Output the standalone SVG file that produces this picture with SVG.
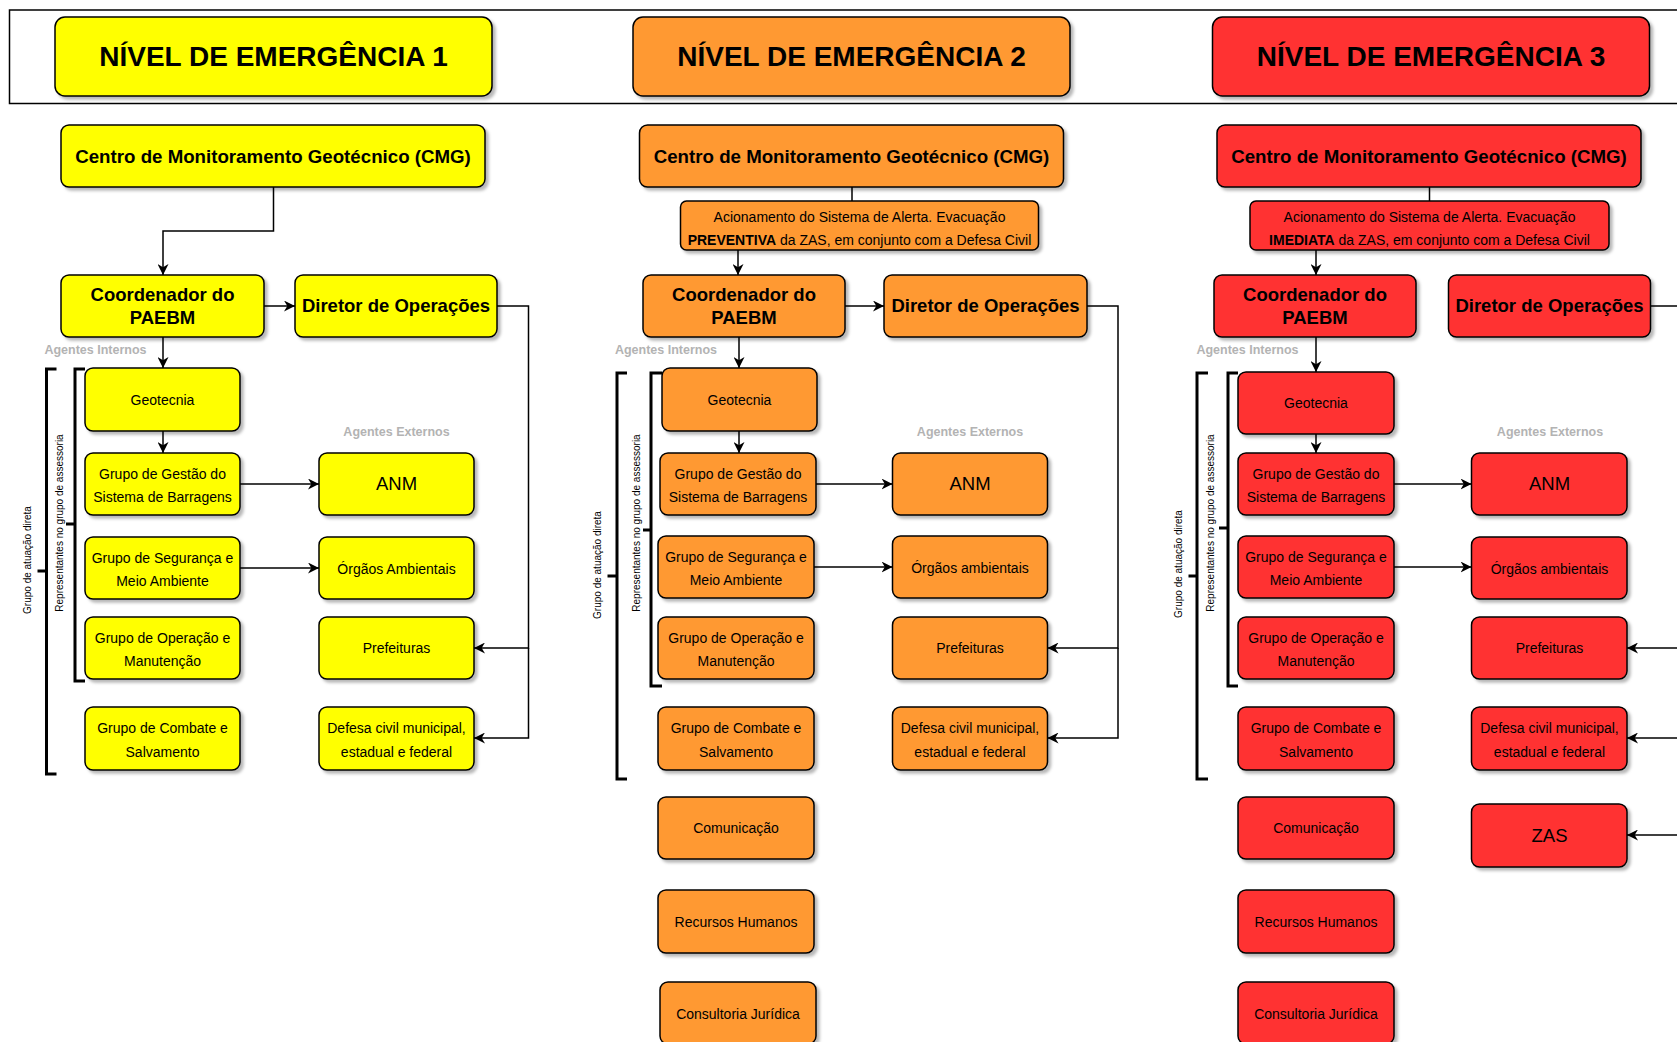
<svg xmlns="http://www.w3.org/2000/svg" width="1677" height="1042" viewBox="0 0 1677 1042">
<style>
text{font-family:"Liberation Sans",Arial,Helvetica,sans-serif;fill:#000;}
.b{stroke:#000;stroke-width:1.5;filter:url(#sh);}
.y{fill:#FFFF00;}
.o{fill:#FF9933;}
.r{fill:#FF3333;}
.h{font-size:28px;font-weight:bold;text-anchor:middle;}
.t18{font-size:18.7px;font-weight:bold;text-anchor:middle;}
.t185{font-size:18.5px;font-weight:bold;text-anchor:middle;}
.t14{font-size:14px;text-anchor:middle;}
.big{font-size:18.5px;text-anchor:middle;}
.lab{font-size:12.5px;font-weight:bold;fill:#B3B3B3;text-anchor:middle;}
.rot{font-size:10px;text-anchor:middle;}
.c{fill:none;stroke:#000;stroke-width:1.5;}
.ca{fill:none;stroke:#000;stroke-width:1.5;marker-end:url(#ar);}
.br{fill:none;stroke:#000;stroke-width:3;}
</style>
<defs>
<filter id="sh" x="-10%" y="-10%" width="130%" height="145%">
<feDropShadow dx="3" dy="3" stdDeviation="1.5" flood-color="#000" flood-opacity="0.28"/>
</filter>
<marker id="ar" viewBox="0 0 10 10" refX="10" refY="5" markerWidth="11" markerHeight="11" markerUnits="userSpaceOnUse" orient="auto">
<path d="M0,0 L10,5 L0,10 L3,5 z" fill="#000"/>
</marker>
</defs>
<rect x="0" y="0" width="1677" height="1042" fill="#fff"/>
<rect x="9.5" y="10" width="1700" height="93.5" fill="none" stroke="#000" stroke-width="1.5"/>

<!-- Column 1 -->
<g id="n1-header"><rect class="b y" x="55" y="17" width="437" height="79" rx="10"/><text class="h" x="273.5" y="66">NÍVEL DE EMERGÊNCIA 1</text></g>
<g id="n1-cmg"><rect class="b y" x="61" y="125" width="424" height="62" rx="8"/><text class="t18" x="273" y="162.5">Centro de Monitoramento Geotécnico (CMG)</text></g>
<g id="n1-coord"><rect class="b y" x="61" y="275" width="203" height="62" rx="8"/><text class="t185" x="162.5" y="300.5">Coordenador do</text><text class="t185" x="162.5" y="323.5">PAEBM</text></g>
<g id="n1-dir"><rect class="b y" x="295" y="275" width="202" height="62" rx="8"/><text class="t185" x="396" y="312">Diretor de Operações</text></g>
<g id="n1-geo"><rect class="b y" x="85" y="368" width="155" height="63" rx="8"/><text class="t14" x="162.5" y="404.5">Geotecnia</text></g>
<g id="n1-gest"><rect class="b y" x="85" y="453" width="155" height="62" rx="8"/><text class="t14" x="162.5" y="479">Grupo de Gestão do</text><text class="t14" x="162.5" y="502">Sistema de Barragens</text></g>
<g id="n1-seg"><rect class="b y" x="85" y="537" width="155" height="62" rx="8"/><text class="t14" x="162.5" y="563">Grupo de Segurança e</text><text class="t14" x="162.5" y="586">Meio Ambiente</text></g>
<g id="n1-op"><rect class="b y" x="85" y="617" width="155" height="62" rx="8"/><text class="t14" x="162.5" y="642.5">Grupo de Operação e</text><text class="t14" x="162.5" y="666">Manutenção</text></g>
<g id="n1-comb"><rect class="b y" x="85" y="707" width="155" height="63" rx="8"/><text class="t14" x="162.5" y="733">Grupo de Combate e</text><text class="t14" x="162.5" y="756.5">Salvamento</text></g>
<g id="n1-anm"><rect class="b y" x="319" y="453" width="155" height="62" rx="8"/><text class="big" x="396.5" y="490">ANM</text></g>
<g id="n1-org"><rect class="b y" x="319" y="537" width="155" height="62" rx="8"/><text class="t14" x="396.5" y="574">Órgãos Ambientais</text></g>
<g id="n1-pref"><rect class="b y" x="319" y="617" width="155" height="62" rx="8"/><text class="t14" x="396.5" y="653">Prefeituras</text></g>
<g id="n1-def"><rect class="b y" x="319" y="707" width="155" height="63" rx="8"/><text class="t14" x="396.5" y="733">Defesa civil municipal,</text><text class="t14" x="396.5" y="756.5">estadual e federal</text></g>
<g id="n1-labels">
<text class="lab" x="95.5" y="353.5">Agentes Internos</text>
<text class="lab" x="396.5" y="436">Agentes Externos</text>
<path class="br" d="M56.5,369 H46.5 V774 H56.5 M37.5,571 H46.5"/>
<path class="br" d="M85,369 H75 V681 H85 M66,524 H75"/>
<text class="rot" transform="translate(30.5,560) rotate(-90)">Grupo de atuação direta</text>
<text class="rot" transform="translate(62.5,523) rotate(-90)">Representantes no grupo de assessoria</text>
</g>

<!-- Column 2 -->
<g id="n2-header"><rect class="b o" x="633" y="17" width="437" height="79" rx="10"/><text class="h" x="851.5" y="66">NÍVEL DE EMERGÊNCIA 2</text></g>
<g id="n2-cmg"><rect class="b o" x="639.5" y="125" width="424" height="62" rx="8"/><text class="t18" x="851.5" y="162.5">Centro de Monitoramento Geotécnico (CMG)</text></g>
<g id="n2-alert"><rect class="b o" x="680.5" y="201" width="358" height="49" rx="6"/><text class="t14" x="859.5" y="221.5">Acionamento do Sistema de Alerta. Evacuação</text><text class="t14" x="859.5" y="244.5"><tspan font-weight="bold">PREVENTIVA</tspan> da ZAS, em conjunto com a Defesa Civil</text></g>
<g id="n2-coord"><rect class="b o" x="643" y="275" width="202" height="62" rx="8"/><text class="t185" x="744" y="300.5">Coordenador do</text><text class="t185" x="744" y="323.5">PAEBM</text></g>
<g id="n2-dir"><rect class="b o" x="884" y="275" width="203" height="62" rx="8"/><text class="t185" x="985.5" y="312">Diretor de Operações</text></g>
<g id="n2-geo"><rect class="b o" x="662" y="368" width="155" height="63" rx="8"/><text class="t14" x="739.5" y="404.5">Geotecnia</text></g>
<g id="n2-gest"><rect class="b o" x="660" y="453" width="156" height="62" rx="8"/><text class="t14" x="738" y="479">Grupo de Gestão do</text><text class="t14" x="738" y="502">Sistema de Barragens</text></g>
<g id="n2-seg"><rect class="b o" x="658" y="536" width="156" height="62" rx="8"/><text class="t14" x="736" y="561.5">Grupo de Segurança e</text><text class="t14" x="736" y="585">Meio Ambiente</text></g>
<g id="n2-op"><rect class="b o" x="658" y="617" width="156" height="62" rx="8"/><text class="t14" x="736" y="642.5">Grupo de Operação e</text><text class="t14" x="736" y="666">Manutenção</text></g>
<g id="n2-comb"><rect class="b o" x="658" y="707" width="156" height="63" rx="8"/><text class="t14" x="736" y="733">Grupo de Combate e</text><text class="t14" x="736" y="756.5">Salvamento</text></g>
<g id="n2-com"><rect class="b o" x="658" y="797" width="156" height="62" rx="8"/><text class="t14" x="736" y="833">Comunicação</text></g>
<g id="n2-rh"><rect class="b o" x="658" y="890" width="156" height="63" rx="8"/><text class="t14" x="736" y="927">Recursos Humanos</text></g>
<g id="n2-cons"><rect class="b o" x="660" y="982" width="156" height="62" rx="8"/><text class="t14" x="738" y="1019">Consultoria Jurídica</text></g>
<g id="n2-anm"><rect class="b o" x="892.5" y="453" width="155" height="62" rx="8"/><text class="big" x="970" y="490">ANM</text></g>
<g id="n2-org"><rect class="b o" x="892.5" y="536" width="155" height="62" rx="8"/><text class="t14" x="970" y="573">Órgãos ambientais</text></g>
<g id="n2-pref"><rect class="b o" x="892.5" y="617" width="155" height="62" rx="8"/><text class="t14" x="970" y="653">Prefeituras</text></g>
<g id="n2-def"><rect class="b o" x="892.5" y="707" width="155" height="63" rx="8"/><text class="t14" x="970" y="733">Defesa civil municipal,</text><text class="t14" x="970" y="756.5">estadual e federal</text></g>
<g id="n2-labels">
<text class="lab" x="666" y="353.5">Agentes Internos</text>
<text class="lab" x="970" y="436">Agentes Externos</text>
<path class="br" d="M627,373 H617 V779 H627 M607.5,576 H617"/>
<path class="br" d="M662,373 H651 V686 H662 M643,530 H651"/>
<text class="rot" transform="translate(601,565) rotate(-90)">Grupo de atuação direta</text>
<text class="rot" transform="translate(639.5,523) rotate(-90)">Representantes no grupo de assessoria</text>
</g>

<!-- Column 3 -->
<g id="n3-header"><rect class="b r" x="1212.5" y="17" width="437" height="79" rx="10"/><text class="h" x="1431" y="66">NÍVEL DE EMERGÊNCIA 3</text></g>
<g id="n3-cmg"><rect class="b r" x="1217" y="125" width="424" height="62" rx="8"/><text class="t18" x="1429" y="162.5">Centro de Monitoramento Geotécnico (CMG)</text></g>
<g id="n3-alert"><rect class="b r" x="1250" y="201" width="359" height="49" rx="6"/><text class="t14" x="1429.5" y="221.5">Acionamento do Sistema de Alerta. Evacuação</text><text class="t14" x="1429.5" y="244.5"><tspan font-weight="bold">IMEDIATA</tspan> da ZAS, em conjunto com a Defesa Civil</text></g>
<g id="n3-coord"><rect class="b r" x="1214" y="275" width="202" height="62" rx="8"/><text class="t185" x="1315" y="300.5">Coordenador do</text><text class="t185" x="1315" y="323.5">PAEBM</text></g>
<g id="n3-dir"><rect class="b r" x="1448.5" y="275" width="202" height="62" rx="8"/><text class="t185" x="1549.5" y="312">Diretor de Operações</text></g>
<g id="n3-geo"><rect class="b r" x="1238" y="372" width="156" height="62" rx="8"/><text class="t14" x="1316" y="408">Geotecnia</text></g>
<g id="n3-gest"><rect class="b r" x="1238" y="453" width="156" height="62" rx="8"/><text class="t14" x="1316" y="479">Grupo de Gestão do</text><text class="t14" x="1316" y="502">Sistema de Barragens</text></g>
<g id="n3-seg"><rect class="b r" x="1238" y="536" width="156" height="62" rx="8"/><text class="t14" x="1316" y="561.5">Grupo de Segurança e</text><text class="t14" x="1316" y="585">Meio Ambiente</text></g>
<g id="n3-op"><rect class="b r" x="1238" y="617" width="156" height="62" rx="8"/><text class="t14" x="1316" y="642.5">Grupo de Operação e</text><text class="t14" x="1316" y="666">Manutenção</text></g>
<g id="n3-comb"><rect class="b r" x="1238" y="707" width="156" height="63" rx="8"/><text class="t14" x="1316" y="733">Grupo de Combate e</text><text class="t14" x="1316" y="756.5">Salvamento</text></g>
<g id="n3-com"><rect class="b r" x="1238" y="797" width="156" height="62" rx="8"/><text class="t14" x="1316" y="833">Comunicação</text></g>
<g id="n3-rh"><rect class="b r" x="1238" y="890" width="156" height="63" rx="8"/><text class="t14" x="1316" y="927">Recursos Humanos</text></g>
<g id="n3-cons"><rect class="b r" x="1238" y="982" width="156" height="62" rx="8"/><text class="t14" x="1316" y="1019">Consultoria Jurídica</text></g>
<g id="n3-anm"><rect class="b r" x="1471.5" y="453" width="155.5" height="62" rx="8"/><text class="big" x="1549.5" y="490">ANM</text></g>
<g id="n3-org"><rect class="b r" x="1471.5" y="537" width="155.5" height="62" rx="8"/><text class="t14" x="1549.5" y="574">Órgãos ambientais</text></g>
<g id="n3-pref"><rect class="b r" x="1471.5" y="617" width="155.5" height="62" rx="8"/><text class="t14" x="1549.5" y="653">Prefeituras</text></g>
<g id="n3-def"><rect class="b r" x="1471.5" y="707" width="155.5" height="63" rx="8"/><text class="t14" x="1549.5" y="733">Defesa civil municipal,</text><text class="t14" x="1549.5" y="756.5">estadual e federal</text></g>
<g id="n3-zas"><rect class="b r" x="1471.5" y="804" width="155.5" height="63" rx="8"/><text class="big" x="1549.5" y="842">ZAS</text></g>
<g id="n3-labels">
<text class="lab" x="1247.5" y="353.5">Agentes Internos</text>
<text class="lab" x="1550" y="436">Agentes Externos</text>
<path class="br" d="M1208,373 H1197 V779 H1208 M1188.5,576 H1197"/>
<path class="br" d="M1238,373 H1228 V686 H1238 M1219,528 H1228"/>
<text class="rot" transform="translate(1182,564) rotate(-90)">Grupo de atuação direta</text>
<text class="rot" transform="translate(1213.5,523) rotate(-90)">Representantes no grupo de assessoria</text>
</g>

<g id="connectors">
<path class="ca" d="M273.5,187 V231 H163 V275"/>
<path class="ca" d="M264,306 H295"/>
<path class="ca" d="M163,337 V368"/>
<path class="ca" d="M163,431 V453"/>
<path class="ca" d="M240,484 H319"/>
<path class="ca" d="M240,568 H319"/>
<path class="ca" d="M497,306 H528.5 V648 H474"/>
<path class="ca" d="M528.5,648 V738 H474"/>

<path class="c" d="M852,187 V201"/>
<path class="ca" d="M738,250 V275"/>
<path class="ca" d="M845,306 H884"/>
<path class="ca" d="M739,337 V368"/>
<path class="ca" d="M739,431 V453"/>
<path class="ca" d="M816,484 H892.5"/>
<path class="ca" d="M814,567 H892.5"/>
<path class="ca" d="M1087,306 H1118 V648 H1047.5"/>
<path class="ca" d="M1118,648 V738 H1047.5"/>

<path class="c" d="M1429.5,187 V201"/>
<path class="ca" d="M1316,250 V275"/>
<path class="ca" d="M1316,337 V372"/>
<path class="ca" d="M1316,434 V453"/>
<path class="ca" d="M1394,484 H1471.5"/>
<path class="ca" d="M1394,567 H1471.5"/>
<path class="c" d="M1650.5,306 H1690"/>
<path class="ca" d="M1690,648 H1627"/>
<path class="ca" d="M1690,738 H1627"/>
<path class="ca" d="M1690,835 H1627"/>
</g>
</svg>
